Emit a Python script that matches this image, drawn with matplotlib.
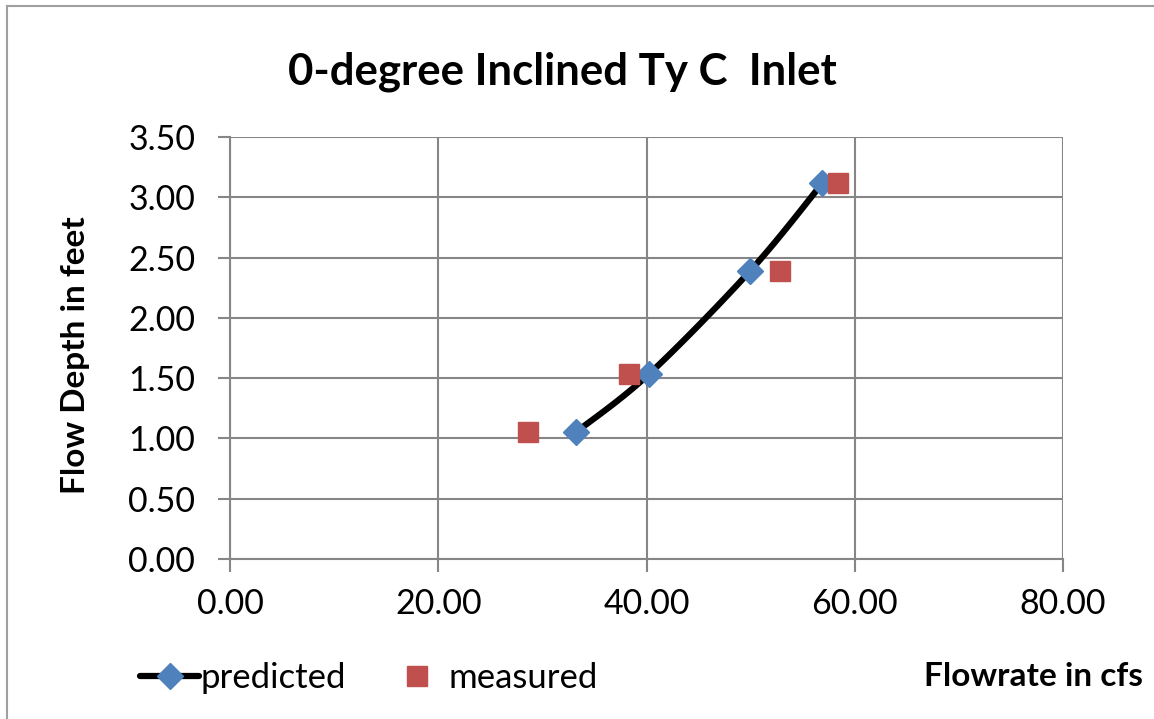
import matplotlib.pyplot as plt
import numpy as np
from matplotlib.lines import Line2D

# values
pred_x = [33.27, 40.24, 49.97, 56.88]
pred_y = [1.055, 1.534, 2.391, 3.116]
meas_x = [28.63, 38.29, 52.78, 58.42]
meas_y = [1.055, 1.534, 2.391, 3.116]

x_ticks = [0, 20, 40, 60, 80]
y_ticks = [0, 0.5, 1.0, 1.5, 2.0, 2.5, 3.0, 3.5]

blue = '#4F81BD'
red = '#C0504D'
grid_col = '#868686'

plt.rcParams['font.family'] = ['Lato', 'DejaVu Sans']


def smooth_curve(xs, ys, n=40):
    # spreadsheet-style smoothed line: cubic bezier between points
    pts = np.column_stack([xs, ys])
    out = [pts[0]]
    for i in range(len(pts) - 1):
        p0 = pts[i - 1] if i > 0 else pts[i]
        p1 = pts[i]
        p2 = pts[i + 1]
        p3 = pts[i + 2] if i + 2 < len(pts) else pts[i + 1]
        c1 = p1 + (p2 - p0) / 6.0
        c2 = p2 - (p3 - p1) / 6.0
        t = np.linspace(0, 1, n)[1:, None]
        seg = ((1 - t) ** 3) * p1 + 3 * ((1 - t) ** 2) * t * c1 + 3 * (1 - t) * t ** 2 * c2 + t ** 3 * p2
        out.extend(seg)
    out = np.array(out)
    return out[:, 0], out[:, 1]


fig = plt.figure(figsize=(11.54, 7.19), dpi=100)
ax = fig.add_axes([230 / 1154, 1 - 559 / 719, 833 / 1154, 422 / 719])

sx, sy = smooth_curve(pred_x, pred_y)
ax.plot(sx, sy, color='black', linewidth=4.5, solid_capstyle='round', zorder=3)
ax.plot(pred_x, pred_y, linestyle='none', marker='D', markersize=13,
        color=blue, markeredgecolor=blue, zorder=4)
ax.plot(meas_x, meas_y, linestyle='none', marker='s', markersize=14,
        color=red, markeredgecolor=red, zorder=4)

ax.set_xlim(0, 80)
ax.set_ylim(0, 3.5)
ax.set_xticks(x_ticks)
ax.set_yticks(y_ticks)
ax.set_xticklabels(['%.2f' % v for v in x_ticks])
ax.set_yticklabels(['%.2f' % v for v in y_ticks])
ax.grid(True, color=grid_col, linewidth=1.5)
ax.set_axisbelow(True)
for s in ['top', 'right']:
    ax.spines[s].set_visible(False)
for s in ['left', 'bottom']:
    ax.spines[s].set_color(grid_col)
    ax.spines[s].set_linewidth(1.5)
ax.tick_params(axis='both', colors=grid_col, width=1.5, length=9, labelsize=24.5,
               labelcolor='black')
ax.tick_params(axis='x', pad=12)
ax.tick_params(axis='y', pad=16)

fig.text(562 / 1154, 1 - 72 / 719, '0-degree Inclined Ty C  Inlet', ha='center', va='center',
         fontsize=31.5, fontweight='bold')
fig.text(75 / 1154, 1 - 355 / 719, 'Flow Depth in feet', ha='center', va='center',
         rotation=90, fontsize=24, fontweight='bold')
fig.text(1034 / 1154, 1 - 677 / 719, 'Flowrate in cfs', ha='center', va='center',
         fontsize=24, fontweight='bold')

# legend
handles = [Line2D([], [], color='black', linewidth=4.5, marker='D', markersize=13,
                  markerfacecolor=blue, markeredgecolor=blue, solid_capstyle='round'),
           Line2D([], [], linestyle='none', marker='s', markersize=14,
                  color=red, markeredgecolor=red)]
fig.legend(handles, ['predicted', 'measured'], loc='center left',
           bbox_to_anchor=(140 / 1154, 1 - 678 / 719), ncol=2, frameon=False,
           borderpad=0, borderaxespad=0,
           fontsize=25, handlelength=1.7, handletextpad=0.05, columnspacing=1.2)

# outer chart border (left and top visible)
fig.add_artist(Line2D([7 / 1154, 7 / 1154], [0, 1 - 6 / 719], transform=fig.transFigure,
                      color='#A0A0A0', linewidth=1.5))
fig.add_artist(Line2D([7 / 1154, 1], [1 - 6 / 719, 1 - 6 / 719], transform=fig.transFigure,
                      color='#A0A0A0', linewidth=1.5))

plt.savefig('out.png', dpi=100)
